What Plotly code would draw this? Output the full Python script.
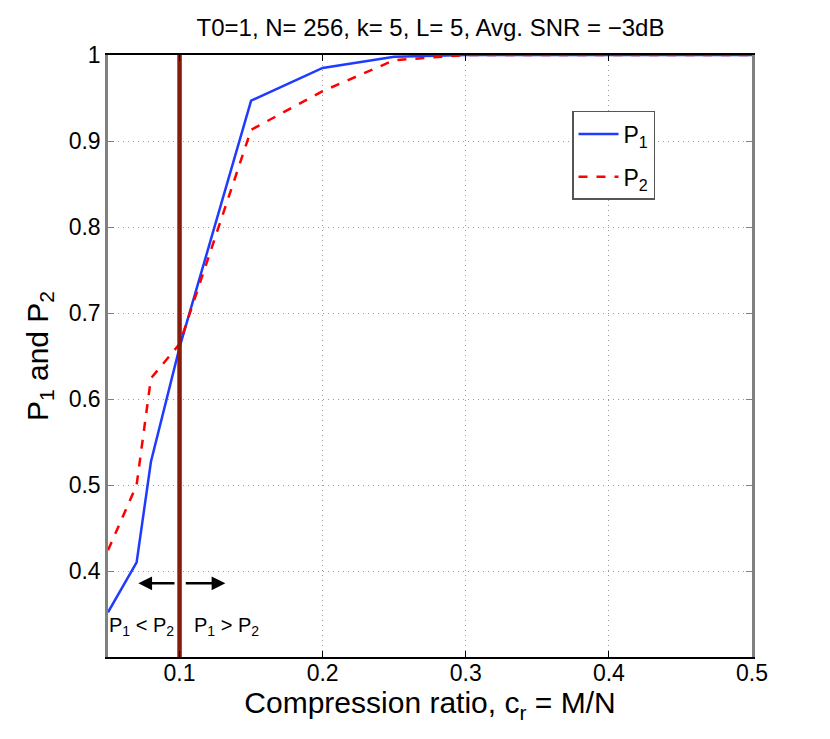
import plotly.graph_objects as go

cr = [0.05, 0.07, 0.08, 0.10, 0.15, 0.20, 0.25, 0.30, 0.35, 0.40, 0.45, 0.50]
p1 = [0.352, 0.410, 0.527, 0.660, 0.947, 0.985, 0.998, 1.0, 1.0, 1.0, 1.0, 1.0]
p2 = [0.424, 0.500, 0.624, 0.664, 0.913, 0.958, 0.994, 1.0, 1.0, 1.0, 1.0, 1.0]
threshold = 0.10
x_ticks = [0.1, 0.2, 0.3, 0.4, 0.5]
y_ticks = [0.4, 0.5, 0.6, 0.7, 0.8, 0.9, 1.0]
y_tick_text = ["0.4", "0.5", "0.6", "0.7", "0.8", "0.9", "1"]

FONT = "Liberation Sans, Arial, Helvetica, sans-serif"

fig = go.Figure()
fig.add_trace(go.Scatter(x=cr, y=p1, mode="lines", name="P<sub>1</sub>", legendgroup="a",
                         line=dict(color="#1f3bff", width=2.5)))
fig.add_trace(go.Scatter(x=cr, y=p2, mode="lines", name="P<sub>2</sub>", legendgroup="b",
                         line=dict(color="#ff0000", width=2.5, dash="dash")))
fig.add_trace(go.Scatter(x=[threshold, threshold], y=[0.3, 1.0], mode="lines",
                         showlegend=False, line=dict(color="#8a1a0c", width=4.5)))

# arrows
fig.add_annotation(x=0.0712, y=0.3857, ax=0.0975, ay=0.3857, xref="x", yref="y",
                   axref="x", ayref="y", text="", showarrow=True,
                   arrowhead=2, arrowsize=1.1, arrowwidth=2.5, arrowcolor="black")
fig.add_annotation(x=0.132, y=0.3857, ax=0.1033, ay=0.3857, xref="x", yref="y",
                   axref="x", ayref="y", text="", showarrow=True,
                   arrowhead=2, arrowsize=1.1, arrowwidth=2.5, arrowcolor="black")
fig.add_annotation(x=0.0735, y=0.336, xref="x", yref="y", showarrow=False,
                   text="P<sub>1</sub> < P<sub>2</sub>",
                   font=dict(family=FONT, size=20, color="black"))
fig.add_annotation(x=0.1325, y=0.336, xref="x", yref="y", showarrow=False,
                   text="P<sub>1</sub> > P<sub>2</sub>",
                   font=dict(family=FONT, size=20, color="black"))

fig.update_layout(
    width=814, height=723,
    paper_bgcolor="white", plot_bgcolor="white",
    margin=dict(l=100, r=70, t=47, b=74),
    font=dict(family=FONT, color="black"),
    title=dict(text="T0=1, N= 256, k= 5, L= 5, Avg. SNR = \u22123dB",
               x=0.519, xanchor="center", y=0.973, yanchor="middle",
               font=dict(size=24, family=FONT)),
    legend=dict(x=0.7205, y=0.907, xanchor="left", yanchor="top",
                bordercolor="#555555", borderwidth=1.5, bgcolor="white",
                font=dict(size=23, family=FONT), itemwidth=40,
                tracegroupgap=10),
    xaxis=dict(range=[0.05, 0.5], tickvals=x_ticks, ticktext=[str(t) for t in x_ticks],
               showgrid=True, gridcolor="#9a9a9a", griddash="1px,4px", gridwidth=1,
               showline=True, linecolor="black", linewidth=1.5, mirror="ticks",
               ticks="inside", ticklen=6, tickcolor="black",
               tickfont=dict(size=23), zeroline=False, ticklabelstandoff=-5,
               title=dict(text="Compression ratio, c<sub>r</sub> = M/N",
                          font=dict(size=30), standoff=0)),
    yaxis=dict(range=[0.3, 1.0], tickvals=y_ticks, ticktext=y_tick_text,
               showgrid=True, gridcolor="#9a9a9a", griddash="1px,4px", gridwidth=1,
               showline=True, linecolor="#808080", linewidth=2.5, mirror="ticks",
               ticks="inside", ticklen=6, tickcolor="#808080",
               tickfont=dict(size=23), zeroline=False,
               title=dict(text="P<sub>1</sub> and P<sub>2</sub>",
                          font=dict(size=30), standoff=12)),
)

fig.write_html("out.html")
